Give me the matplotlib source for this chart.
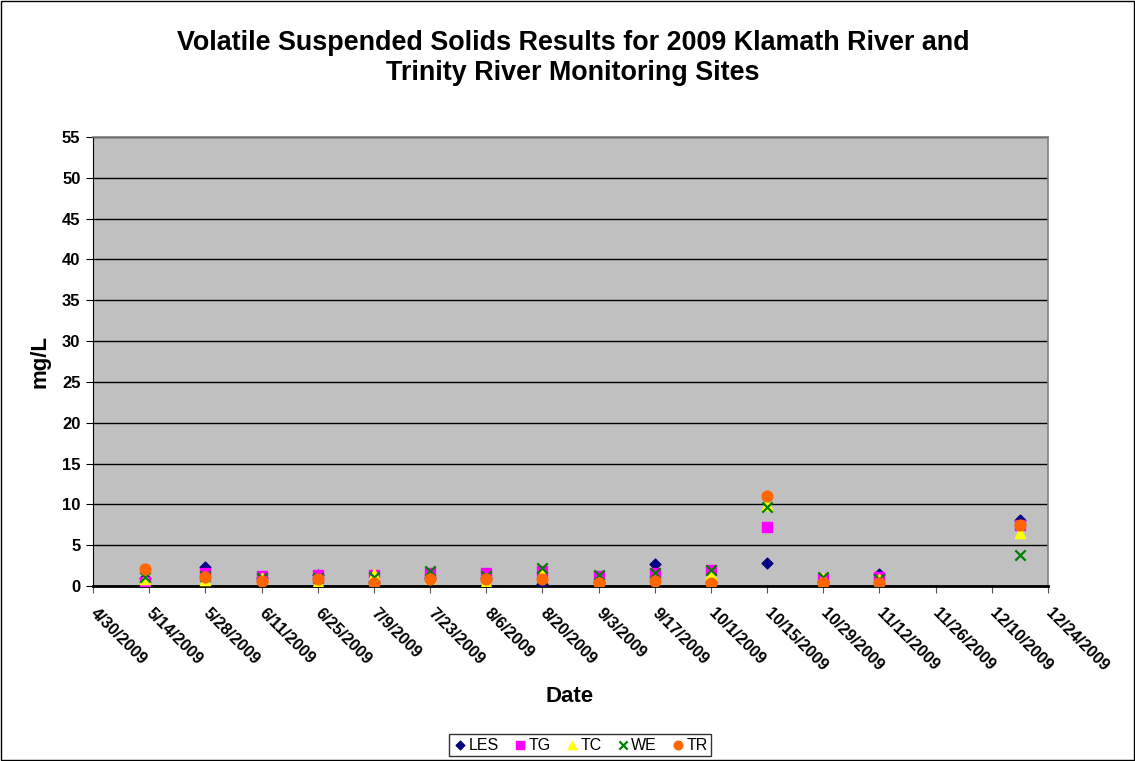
import matplotlib
matplotlib.use("Agg")
import matplotlib.pyplot as plt
import matplotlib.dates as mdates
import numpy as np
from datetime import date

plt.rcParams['font.family'] = ['Liberation Sans', 'DejaVu Sans']

dates = ["2009-05-13", "2009-05-28", "2009-06-11", "2009-06-25", "2009-07-09",
         "2009-07-23", "2009-08-06", "2009-08-20", "2009-09-03", "2009-09-17",
         "2009-10-01", "2009-10-15", "2009-10-29", "2009-11-12", "2009-12-17"]
LES = [1.0, 2.3, 1.0, 1.3, 0.5, 1.0, 1.0, 0.2, 0.5, 2.7, 0.5, 2.8, 0.5, 1.5, 8.1]
TG  = [0.5, 1.6, 1.2, 1.3, 1.3, 1.6, 1.6, 1.8, 1.2, 1.6, 1.9, 7.2, 0.8, 1.1, 7.5]
TC  = [0.9, 0.7, 1.0, 0.5, 1.5, 1.0, 0.5, 1.5, 0.8, 1.0, 1.5, 9.9, 1.0, 0.9, 6.5]
WE  = [1.1, 1.2, 1.0, 1.0, 1.1, 1.8, 1.2, 2.2, 1.3, 1.6, 2.0, 9.7, 1.1, 0.8, 3.8]
TR  = [2.1, 1.1, 0.6, 0.8, 0.4, 0.9, 0.9, 0.9, 0.4, 0.6, 0.4, 11.0, 0.4, 0.4, 7.5]

x = [date.fromisoformat(d) for d in dates]
xnum = mdates.date2num(x)

fig = plt.figure(figsize=(11.35, 7.61), dpi=100)
ax = fig.add_axes([93/1135, 1-586/761, (1048-93)/1135, (586-137)/761])
ax.set_facecolor('#C0C0C0')

series = [
    ("LES", LES, dict(marker='D', color='#000080', s=30)),
    ("TG", TG, dict(marker='s', color='#FF00FF', s=45)),
    ("TC", TC, dict(marker='^', color='#FFFF00', s=55)),
    ("WE", WE, dict(marker='x', color='#008000', s=55, linewidths=1.6)),
    ("TR", TR, dict(marker='o', color='#FF6600', s=60)),
]
for name, vals, kw in series:
    ax.scatter(xnum, vals, label=name, zorder=3, **kw)

start = mdates.date2num(date(2009, 4, 30))
end = mdates.date2num(date(2009, 12, 24))
ax.set_xlim(start, end)
ax.set_ylim(0, 55)
ticks = [start + 14*i for i in range(18)]
ax.set_xticks(ticks)
ax.set_xticklabels([f"{d.month}/{d.day}/{d.year}" for d in mdates.num2date(ticks)],
                   rotation=-45, ha='left', va='center', rotation_mode='anchor',
                   fontweight='bold', fontsize=11.75)
ax.set_yticks(np.arange(0, 56, 5))
ax.set_yticklabels([str(v) for v in range(0, 56, 5)], fontweight='bold', fontsize=12)
ax.yaxis.grid(True, color='black', linewidth=1)
ax.set_axisbelow(True)
ax.tick_params(axis='x', length=5, color='#555555', pad=13)
ax.tick_params(axis='y', length=5, color='black', pad=4)
for sp in ['top', 'right']:
    ax.spines[sp].set_color('#808080')
    ax.spines[sp].set_linewidth(1.2)
ax.spines['left'].set_color('black')
ax.spines['bottom'].set_color('black')
ax.spines['bottom'].set_linewidth(2)

ax.set_xlabel("Date", fontweight='bold', fontsize=16)
ax.xaxis.set_label_coords((570-93)/955, (586-697)/449)
ax.xaxis.label.set_va('center')
ax.set_ylabel("mg/L", fontweight='bold', fontsize=16)
ax.yaxis.set_label_coords((40-93)/955, 0.5)
ax.yaxis.label.set_va('center')
fig.suptitle("Volatile Suspended Solids Results for 2009 Klamath River and\nTrinity River Monitoring Sites",
             fontweight='bold', fontsize=19.4, x=573/1135, y=1-30/761, linespacing=1.22)

leg = fig.legend(loc='center', bbox_to_anchor=(580/1135, 1-745/761), ncol=5,
                 frameon=True, fancybox=False, edgecolor='black', fontsize=11.5,
                 handletextpad=0.05, columnspacing=0.8, borderpad=0.2, scatterpoints=1,
                 handlelength=1.0, markerscale=0.8)
leg.get_frame().set_linewidth(1)

fig.patches.append(plt.Rectangle((0.001, 0.001), 0.998, 0.998, transform=fig.transFigure,
                                 fill=False, edgecolor='black', linewidth=1))
fig.savefig("out.png", dpi=100)
